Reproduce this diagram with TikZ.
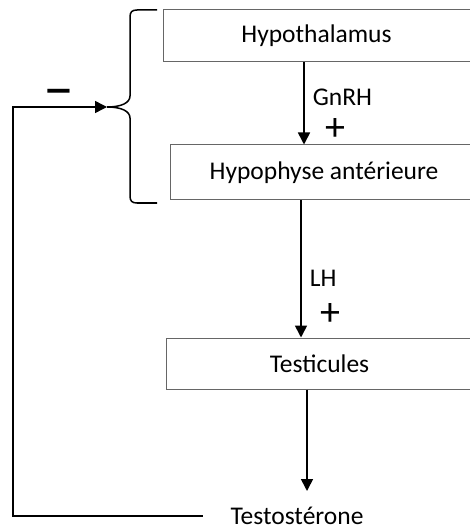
\documentclass[tikz,border=0pt]{standalone}
\usepackage{fontspec}
\setmainfont{Carlito}
\usepackage{tikz}
\usetikzlibrary{arrows.meta,positioning}

\begin{document}
\begin{tikzpicture}[x=1pt,y=-1pt,node distance=80pt]
  \tikzstyle{organbox}=[rectangle,draw=black!60,line width=1pt,minimum width=307pt,inner sep=0pt,font=\fontsize{25.5}{30}\selectfont]
  \tikzstyle{lbl}=[inner sep=0pt,anchor=west,font=\fontsize{25.5}{30}\selectfont]
  \tikzstyle{sign}=[inner sep=0pt,font=\fontsize{40}{44}\selectfont]
  \tikzstyle{arr}=[line width=1.6pt,-{Triangle[length=12pt,width=12pt]}]
  \tikzstyle{fbline}=[line width=1.5pt]

  \useasboundingbox (0,0) rectangle (469,529);

  \node[organbox,minimum height=52pt] (hypoth) at (316.5,36) {Hypothalamus};
  \node[organbox,minimum height=55pt,below=82pt of hypoth,xshift=7.5pt] (ant) {Hypophyse ant\'erieure};
  \node[organbox,minimum height=51pt,below=137pt of ant,xshift=-4.5pt] (testi) {Testicules};
  \node[lbl,anchor=base,inner sep=0pt,outer xsep=28pt,outer ysep=17pt,text height=16pt,text depth=0pt] (testo) at (297,524) {Testost\'erone};

  \coordinate (gx) at (304,0);
  \coordinate (lx) at (301,0);
  \coordinate (tx) at (307,0);
  \coordinate (fbx) at (13,0);
  \coordinate (bracetip) at (107,107);

  % accolade
  \draw[fbline] (157,10) -- (137,10) .. controls (132,10) and (130,12) .. (130,17) -- (130,96)
    .. controls (130,103) and (121,107) .. (bracetip)
    .. controls (121,107) and (130,111) .. (130,118) -- (130,196)
    .. controls (130,201) and (132,203) .. (137,203) -- (157,203);

  \draw[arr] (hypoth.south -| gx) -- node[lbl,pos=.43,xshift=8pt] {GnRH} node[sign,pos=.82,xshift=31pt] {+} (ant.north -| gx);
  \draw[arr] (ant.south -| lx) -- node[lbl,pos=.57,xshift=8pt] {LH} node[sign,pos=.83,xshift=29pt] {+} (testi.north -| lx);
  \draw[arr] (testi.south -| tx) -- (testo.north -| tx);

  % retrocontrole
  \draw[fbline,-{Triangle[length=12pt,width=12pt]}] (testo.west) -- (testo.west -| fbx) |- node[sign,pos=.745,yshift=8pt,font=\fontsize{62}{66}\selectfont] {\textendash} (bracetip);
\end{tikzpicture}
\end{document}
